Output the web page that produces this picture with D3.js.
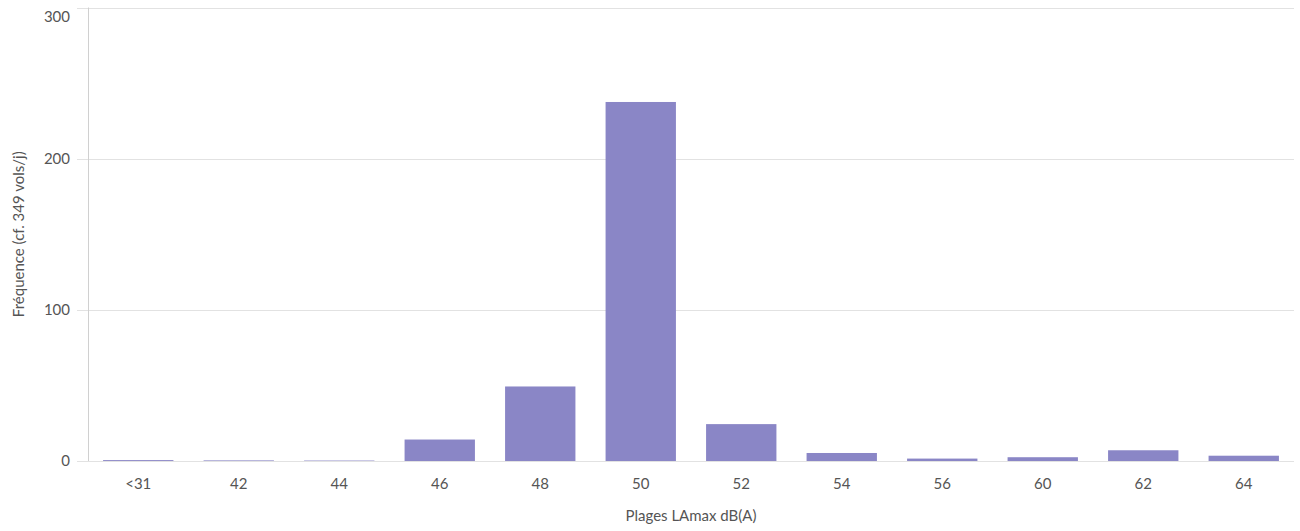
<!DOCTYPE html>
<html>
<head>
<meta charset="utf-8">
<script src="https://cdn.jsdelivr.net/npm/d3@7"></script>
<style>
  html, body { margin: 0; padding: 0; background: #fff; }
  svg text { font-family: Lato, "Open Sans", sans-serif; fill: #555; }
</style>
</head>
<body>
<svg id="chart" width="1300" height="531"></svg>
<script>
// Noise ranges (LAmax, dB(A)) and number of flights per range
const categories = ["<31", "42", "44", "46", "48", "50", "52", "54", "56", "60", "62", "64"];
const frequencies = [0.6, 0.4, 0.3, 14.2, 49.3, 237.5, 24.4, 5.3, 1.6, 2.5, 7.1, 3.5];
const yTicks = [0, 100, 200, 300];

const svg = d3.select("#chart");
const plotLeft = 88, plotRight = 1294, plotTop = 7.5, plotBottom = 461;
const fontSize = 15;

const x = d3.scaleBand()
  .domain(categories)
  .range([plotLeft, plotRight])
  .paddingInner(0.3)
  .paddingOuter(0.15);

const y = d3.scaleLinear().domain([0, 300]).range([plotBottom, plotTop]);

// horizontal gridlines
svg.append("g")
  .selectAll("line")
  .data(yTicks)
  .join("line")
  .attr("x1", plotLeft - 11)
  .attr("x2", plotRight)
  .attr("y1", d => Math.round(y(d)) + 0.5)
  .attr("y2", d => Math.round(y(d)) + 0.5)
  .attr("stroke", "#e2e2e2")
  .attr("stroke-width", 1);

// y axis line
svg.append("line")
  .attr("x1", plotLeft + 0.5).attr("x2", plotLeft + 0.5)
  .attr("y1", plotTop).attr("y2", plotBottom)
  .attr("stroke", "#d0d0d0");

// y tick labels (the topmost one is nudged down to stay inside the frame)
svg.append("g")
  .selectAll("text")
  .data(yTicks)
  .join("text")
  .attr("x", 70)
  .attr("y", d => Math.max(y(d), 17))
  .attr("dy", "0.35em")
  .attr("text-anchor", "end")
  .attr("font-size", fontSize)
  .text(d => d);

// bars
svg.append("g")
  .selectAll("rect")
  .data(categories)
  .join("rect")
  .attr("x", d => x(d))
  .attr("width", x.bandwidth())
  .attr("y", (d, i) => y(frequencies[i]))
  .attr("height", (d, i) => plotBottom - y(frequencies[i]))
  .attr("fill", "#8a86c6");

// x tick labels
svg.append("g")
  .selectAll("text")
  .data(categories)
  .join("text")
  .attr("x", d => x(d) + x.bandwidth() / 2)
  .attr("y", 484)
  .attr("dy", "0.35em")
  .attr("text-anchor", "middle")
  .attr("font-size", fontSize)
  .text(d => d);

// axis titles
svg.append("text")
  .attr("x", (plotLeft + plotRight) / 2)
  .attr("y", 516)
  .attr("dy", "0.35em")
  .attr("text-anchor", "middle")
  .attr("font-size", fontSize)
  .text("Plages LAmax dB(A)");

svg.append("text")
  .attr("transform", `translate(19,${(plotTop + plotBottom) / 2}) rotate(-90)`)
  .attr("dy", "0.35em")
  .attr("text-anchor", "middle")
  .attr("font-size", fontSize)
  .text("Fréquence (cf. 349 vols/j)");
</script>
</body>
</html>
